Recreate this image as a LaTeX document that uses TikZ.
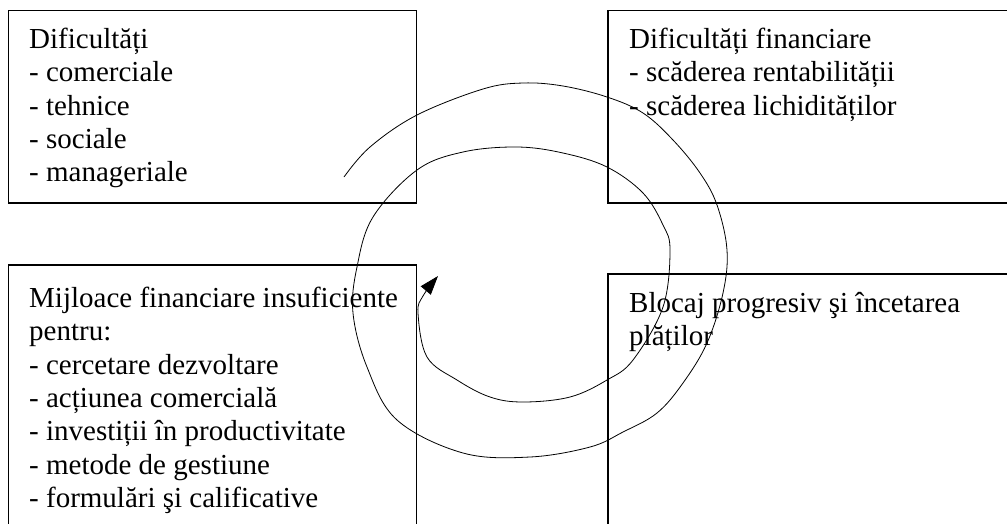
\documentclass[tikz,border=0pt]{standalone}
\usepackage{fontspec}
\setmainfont{Liberation Serif}
\usepackage{tikz}
\usetikzlibrary{positioning, calc}
\usetikzlibrary{arrows.meta}

\begin{document}
\begin{tikzpicture}[x=1pt,y=-1pt,
        box/.style={draw, line width=1.8pt},
        lbl/.style={anchor=north west, inner sep=0pt, align=left,
            font=\fontsize{29}{33.3}\selectfont}]
            \useasboundingbox (0,0) rectangle (1007,523);
            \clip (0,0) rectangle (1007,523);
            % the four boxes, partly cut at the page edges
            \draw[box] (8.5,10.5) rectangle (416.5,203);
            \draw[box] (608,10.5) rectangle (1030,203);
            \draw[box] (8.5,265) rectangle (416.5,560);
            \draw[box] (608,274) rectangle (1030,560);
            \node[lbl] (dific) at (29,28) {Dificultăți\\- comerciale\\- tehnice\\- sociale\\- manageriale};
            \node[lbl] (finan) at (629,28) {Dificultăți financiare\\- scăderea rentabilității\\- scăderea lichidităților};
            \node[lbl] (mijl) at (29,287) {Mijloace financiare insuficiente\\pentru:\\- cercetare dezvoltare\\- acțiunea comercială\\- investiții în productivitate\\- metode de gestiune\\- formulări şi calificative};
            \node[lbl] (bloc) at (629,292) {Blocaj progresiv şi încetarea\\plăților};
            % the spiral
            \draw[line width=0.8pt, -{Triangle[length=19pt,width=13pt]}] plot[smooth, tension=0.6] coordinates {
                (344,177) (370,147) (417,115) (483,89) (523,83) (563,86) (607,97)
                (643,113) (673,140) (700,173) (717,205) (727,250) (723,293) (707,343)
                (683,383) (657,413) (623,432) (590,447) (530,457) (463,453) (397,420)
                (367,367) (353,313) (357,267) (373,217) (417,170) (463,152) (517,147)
                (563,153) (607,167) (643,193) (663,225) (670,250) (663,307) (633,360)
                (607,380) (570,397) (523,402) (490,397) (457,380) (427,357) (418,313)
                (423,296) (438,276)};
        \end{tikzpicture}
\end{document}
